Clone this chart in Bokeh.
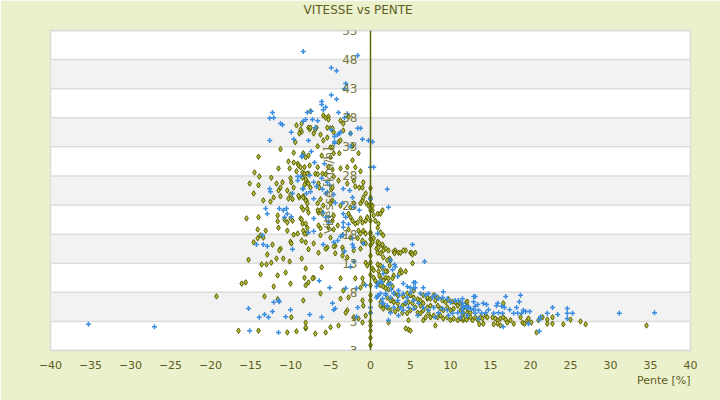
from bokeh.plotting import figure
from bokeh.models import (LinearAxis, FixedTicker, Range1d, BoxAnnotation, Span, Title)
from bokeh.embed import file_html
from bokeh.resources import INLINE

# ---------------- data ----------------
title_text = "VITESSE vs PENTE"
x_label = "Pente [%]"
y_label = "Vitesse [km/h]"
x_ticks = [-40, -35, -30, -25, -20, -15, -10, -5, 0, 5, 10, 15, 20, 25, 30, 35, 40]
y_ticks = [-2, 3, 8, 13, 18, 23, 28, 33, 38, 43, 48, 53]
y_tick_labels = ["3", "3", "8", "13", "18", "23", "28", "33", "38", "43", "48", "53"]

olive_pts = [
    (-9.25, 36.7), (-8.6, 37.0), (-8.9, 35.3), (-8.6, 35.6), (-9.4, 33.8), (-7.75, 36.3), (-7.6, 36.0),
    (-11.25, 32.6), (-9.6, 32.0), (-7.75, 31.5), (-14.0, 31.3), (-10.25, 30.5), (-9.6, 30.3), (-9.1, 30.1),
    (-9.0, 29.8), (-8.75, 29.5), (-11.5, 29.3), (-10.1, 29.3), (-14.5, 28.6), (-9.25, 28.8), (-8.5, 28.6),
    (-8.25, 28.4), (-7.75, 28.4), (-13.9, 27.9), (-12.4, 27.7), (-10.0, 27.6), (-9.9, 26.9), (-11.0, 26.9),
    (-11.75, 26.7), (-8.0, 27.2), (-8.1, 26.7), (-8.25, 26.5), (-15.1, 26.7), (-11.25, 26.0), (-11.5, 25.5),
    (-14.0, 26.4), (-10.4, 25.5), (-9.6, 26.0), (-8.9, 24.3), (-9.0, 24.6), (-10.0, 24.8), (-14.6, 25.0),
    (-12.1, 24.3), (-12.5, 23.6), (-11.25, 24.5), (-10.25, 24.1), (-9.75, 24.0), (-8.4, 24.5), (-8.0, 23.8),
    (-13.4, 23.8), (-8.6, 22.6), (-7.9, 22.4), (-15.5, 20.7), (-14.0, 20.9), (-11.6, 21.2), (-10.0, 20.7),
    (-8.75, 20.7),
    (-11.6, 20.2), (-10.75, 20.5), (-10.4, 20.0), (-9.75, 20.3), (-8.6, 20.5), (-8.5, 19.8), (-11.5, 19.1),
    (-14.1, 18.8), (-13.1, 18.6), (-10.4, 18.6), (-9.6, 17.9), (-9.1, 18.1), (-8.0, 18.1), (-13.75, 17.8),
    (-13.4, 17.4), (-14.1, 17.3), (-8.6, 16.9), (-14.6, 16.6), (-10.0, 16.7), (-9.9, 16.4), (-12.25, 16.2),
    (-11.25, 15.5), (-11.4, 15.2), (-7.75, 15.4), (-12.9, 14.5), (-15.25, 13.6), (-11.75, 13.8), (-10.9, 13.8),
    (-8.6, 13.8), (-10.1, 13.3), (-12.4, 13.1), (-13.0, 12.8), (-13.6, 12.8), (-10.6, 11.4), (-13.75, 11.1),
    (-11.6, 10.9), (-8.25, 10.5), (-16.1, 9.5), (-15.6, 9.7), (-12.1, 9.0), (-10.0, 9.5), (-8.1, 9.2),
    (-7.75, 9.7), (-13.25, 7.3), (-11.6, 6.8), (-9.9, 3.7), (-8.1, 2.8), (-8.1, 1.8), (-16.5, 1.4),
    (-14.0, 1.4), (-9.25, 1.3), (-10.4, 1.1), (-19.25, 7.3),
    (-7.5, 39.1), (-5.9, 38.4), (-5.6, 38.0), (-5.25, 38.2), (-5.25, 37.7), (-3.4, 37.0), (-8.75, 36.0),
    (-7.5, 36.3), (-6.75, 36.3), (-6.9, 36.0), (-5.4, 36.3), (-5.0, 36.2), (-7.1, 35.3), (-6.25, 35.1),
    (-5.4, 34.6), (-4.6, 35.5), (-5.9, 34.1), (-5.0, 32.9), (-4.75, 32.9), (-6.6, 33.1), (-4.0, 33.8),
    (-3.75, 34.1), (-2.25, 33.1), (-8.4, 31.9), (-8.5, 31.5), (-8.1, 31.2), (-6.1, 31.5), (-4.6, 31.9),
    (-3.4, 35.8), (-4.75, 36.2), (-3.75, 37.5), (-2.75, 38.2), (-2.5, 35.3), (-2.25, 33.2), (-1.5, 31.9),
    (-1.4, 26.0), (-0.6, 25.0),
    (-5.0, 31.2), (-3.9, 31.9), (-2.25, 30.7), (-8.25, 29.5), (-7.6, 29.8), (-6.6, 29.5), (-5.25, 29.6),
    (-4.75, 29.1), (-3.75, 29.3), (-2.9, 29.5), (-1.9, 29.5), (-1.25, 28.8), (-7.9, 28.4), (-6.9, 28.4),
    (-6.6, 28.3), (-8.5, 27.7), (-8.1, 27.4), (-6.0, 28.4), (-5.6, 28.3), (-4.6, 27.9), (-4.0, 27.2),
    (-2.1, 27.2), (-0.9, 26.9), (-7.75, 26.7), (-7.5, 26.0), (-6.5, 26.7), (-6.4, 26.0), (-4.9, 25.7),
    (-4.75, 26.0), (-2.9, 26.7), (-1.9, 26.2), (-1.0, 26.0), (-8.4, 24.3), (-8.1, 23.8), (-7.9, 23.3),
    (-6.6, 23.3), (-6.25, 24.0), (-5.9, 22.9), (-5.0, 23.3), (-4.75, 23.8), (-3.75, 22.9), (-2.5, 22.6),
    (-2.1, 23.3), (-1.25, 23.3), (-1.0, 23.8), (-0.9, 24.3), (-0.5, 23.3), (-0.25, 22.9), (-8.4, 22.2),
    (-7.75, 21.7), (-6.5, 21.7), (-4.6, 21.2), (-2.25, 20.3), (-1.25, 20.7), (-1.0, 20.0), (-0.4, 20.9),
    (-0.6, 20.3), (-8.1, 19.8), (-7.9, 19.1), (-6.5, 19.5), (-4.6, 18.8), (-4.1, 19.5), (-2.75, 18.8),
    (-1.5, 18.6), (-0.9, 18.6), (-0.6, 18.1), (-8.25, 18.1), (-6.25, 17.8), (-5.0, 17.4), (-2.5, 17.4),
    (-1.6, 17.3), (-1.0, 16.6), (-0.6, 16.4), (-8.1, 16.6), (-7.1, 16.4), (-5.4, 15.7), (-4.4, 16.0),
    (-3.5, 15.7),
    (-6.6, 22.1), (-6.25, 22.1), (-6.0, 21.5), (-4.75, 20.3), (-2.75, 21.5), (-2.5, 20.9), (-1.9, 19.8),
    (-1.6, 20.0), (-1.25, 18.1), (-1.0, 16.9), (-8.4, 18.6), (-6.25, 19.0), (-5.25, 19.1), (-3.5, 17.8),
    (-6.5, 14.8), (-5.6, 15.5), (-4.6, 15.9), (-4.4, 14.7), (-3.4, 15.2), (-3.5, 14.3), (-2.9, 14.0),
    (-2.1, 15.2), (-1.25, 15.5), (-0.6, 13.1), (-0.4, 12.6), (-8.1, 12.1), (-7.1, 10.5), (-7.25, 10.4),
    (-6.1, 12.3), (-3.75, 10.4), (-1.9, 10.4), (-1.0, 10.4), (-0.9, 9.5), (-1.25, 8.8), (-2.75, 7.1),
    (-3.4, 8.3), (-3.75, 6.9), (-6.25, 7.8), (-8.4, 6.6), (-1.0, 6.6), (-0.9, 5.7), (-2.9, 4.9),
    (-3.1, 4.5), (-2.1, 3.7), (-1.5, 3.5), (-0.6, 4.0), (-1.0, 2.8), (-5.0, 2.0), (-4.0, 2.3),
    (-5.6, 1.1), (-6.9, 0.9), (-8.1, 2.0),
    (0.25, 22.9), (0.25, 22.1), (0.4, 21.2), (0.9, 21.5), (1.25, 21.5), (1.5, 22.1), (0.6, 20.3),
    (1.0, 19.8), (0.9, 19.1), (1.25, 18.3), (1.6, 17.8), (0.4, 17.3), (0.9, 16.4), (1.5, 16.0),
    (1.9, 15.5), (0.9, 14.8), (1.25, 14.7), (1.6, 14.0), (2.1, 13.5), (3.1, 15.2), (3.5, 14.8),
    (3.75, 14.8), (4.4, 15.2), (5.0, 14.8), (5.6, 14.8), (1.0, 12.6), (1.5, 12.1), (2.1, 11.6),
    (2.4, 12.6), (3.75, 11.8), (4.4, 11.6), (2.9, 10.9), (2.75, 10.4), (1.25, 10.5), (1.6, 10.0),
    (2.1, 7.1), (2.75, 6.6), (1.25, 6.3), (1.6, 5.7), (5.4, 8.3), (7.1, 6.9), (8.1, 6.6), (4.75, 1.6),
    (8.1, 2.3),
    (0.25, 16.6), (0.9, 16.7), (1.1, 16.4), (1.5, 16.2), (0.75, 15.5), (1.0, 15.7), (1.6, 15.2),
    (2.25, 15.2), (2.9, 15.0), (3.0, 14.7), (4.1, 15.2), (5.1, 14.8), (5.25, 14.5), (2.4, 13.8),
    (2.5, 13.5), (0.9, 12.8), (1.25, 12.6), (5.25, 13.0), (0.25, 12.1), (0.4, 11.8), (1.0, 11.6),
    (1.9, 11.6), (3.9, 11.4), (3.6, 11.2), (1.1, 10.9), (0.4, 10.5), (0.6, 10.0), (1.9, 10.5),
    (2.25, 10.4), (0.9, 9.5), (1.25, 9.2), (1.6, 9.0), (2.25, 9.5), (2.75, 9.0), (1.9, 8.7),
    (2.25, 8.5), (3.0, 7.8), (3.4, 7.5), (4.1, 7.3), (4.6, 7.8), (5.0, 7.5), (5.4, 7.1), (5.9, 6.8),
    (6.25, 6.6), (6.6, 7.5), (7.1, 7.1), (7.5, 6.9), (7.9, 7.5), (8.4, 7.1), (9.0, 6.6), (9.4, 6.3),
    (9.75, 6.8), (10.25, 6.4), (10.6, 6.3), (10.9, 5.7), (11.25, 6.1), (11.6, 5.4), (12.1, 5.7),
    (1.25, 5.7), (1.6, 5.2), (2.1, 5.4), (2.5, 4.9), (3.1, 4.7), (3.5, 5.2), (4.0, 4.5), (4.6, 4.4),
    (5.0, 4.9), (5.6, 5.4), (5.9, 4.5), (6.25, 4.4), (6.6, 4.9), (7.25, 4.4), (7.5, 3.7), (7.9, 4.0),
    (8.4, 3.7), (8.75, 4.0), (9.1, 3.5), (9.6, 3.7), (10.0, 3.2), (10.4, 3.5), (10.9, 3.2),
    (11.25, 3.5), (11.6, 3.2), (12.1, 3.5), (2.25, 2.8), (4.75, 3.2), (6.6, 3.2), (6.9, 3.7),
    (4.4, 1.8), (5.0, 1.4), (4.0, 5.7), (4.4, 6.1), (2.5, 6.6), (2.9, 6.3), (3.4, 6.1), (4.75, 6.3),
    (5.25, 6.1), (6.25, 5.7), (6.6, 6.1), (7.1, 5.4), (7.5, 5.7), (8.4, 5.7), (8.75, 5.2), (9.1, 4.9),
    (9.6, 5.4), (10.0, 4.9), (10.4, 5.2), (11.25, 4.9), (11.6, 4.4), (12.1, 4.5),
    (12.0, 6.3), (12.1, 6.4), (11.5, 4.0), (11.6, 3.5), (12.0, 3.3), (12.5, 3.7), (12.75, 3.2),
    (13.1, 3.7), (13.4, 3.3), (13.75, 3.7), (14.0, 3.5), (14.4, 4.0), (14.6, 3.7), (15.25, 3.7),
    (15.6, 3.5), (15.9, 3.2), (16.25, 3.5), (16.6, 3.7), (16.9, 3.3), (17.1, 2.8), (17.5, 3.2),
    (17.9, 2.6), (13.6, 2.5), (14.1, 2.6), (15.4, 2.5), (15.9, 2.6), (16.25, 2.3), (18.75, 3.7),
    (19.0, 2.8), (19.25, 2.6), (19.6, 3.2), (19.75, 3.5), (20.1, 2.8), (20.75, 1.1), (21.0, 3.2),
    (21.5, 3.7), (22.1, 3.3), (22.75, 3.7), (22.1, 2.6), (22.75, 2.6), (24.1, 2.5), (25.0, 3.3),
    (26.25, 3.0), (26.9, 2.5), (34.5, 2.3), (16.6, 6.1), (12.1, 5.2), (12.5, 4.5),
    (0.0, 25.9), (0.0, 24.3), (0.0, 23.1), (0.0, 22.1), (0.0, 20.3), (0.0, 18.3), (0.0, 16.1),
    (0.0, 14.3), (0.0, 13.1), (0.0, 9.2), (0.0, 7.5), (0.0, 6.6), (0.0, 4.5), (0.0, 2.3), (0.0, 1.4),
    (0.0, 0.2), (0.0, -1.1), (0.0, 24.0), (0.0, 18.0), (0.0, 17.2), (0.0, 11.0), (0.0, 3.0),
]

blue_pts = [
    (-8.4, 49.4), (-1.6, 48.7), (-4.9, 46.6), (-4.25, 46.1), (-3.1, 43.9), (-3.25, 43.0), (-4.9, 41.9),
    (-4.25, 41.2), (-6.1, 40.8), (-6.1, 40.3), (-5.6, 39.8), (-5.9, 39.4), (-4.0, 38.9), (-7.9, 38.9),
    (-7.4, 39.1), (-2.9, 38.7), (-3.25, 38.0), (-8.4, 37.4), (-8.1, 37.7), (-7.25, 37.7), (-6.6, 37.5),
    (-6.9, 36.3), (-4.9, 36.0), (-1.6, 36.2), (-1.25, 36.2), (-3.75, 35.5), (-3.9, 35.3), (-4.1, 35.1),
    (-2.5, 35.3), (-4.5, 34.8), (-1.0, 34.3), (-0.25, 34.1), (0.25, 33.9), (-7.75, 34.1), (-4.5, 33.9),
    (-4.5, 33.6), (-2.5, 33.1), (-7.4, 32.2), (-8.6, 31.3), (0.0, 29.5), (0.4, 29.5), (2.1, 25.7),
    (2.25, 22.6), (0.0, 24.0), (5.25, 16.2), (0.9, 18.1),
    (-12.25, 38.9), (-12.6, 37.9), (-12.1, 38.0), (-11.25, 37.0), (-11.0, 36.8), (-9.9, 35.5),
    (-9.6, 34.3), (-12.6, 34.1), (-8.5, 31.5), (-9.1, 27.9), (-8.75, 27.9), (-9.1, 27.2), (-8.5, 25.8),
    (-9.75, 25.0), (-12.6, 25.8), (-12.5, 25.3), (-7.5, 25.3), (-13.1, 22.4), (-12.9, 21.5),
    (-11.4, 22.4), (-10.9, 22.1), (-10.5, 22.4), (-10.4, 21.5), (-9.9, 21.0), (-10.75, 20.9),
    (-13.5, 17.8), (-14.25, 16.2), (-13.4, 16.2), (-12.9, 15.9), (-9.75, 15.4), (-12.1, 6.3),
    (-11.5, 6.6), (-11.4, 6.4), (-15.25, 5.2), (-12.25, 4.7), (-13.25, 4.2), (-13.9, 3.7),
    (-12.75, 3.7), (-10.0, 5.0), (-10.6, 3.8), (-7.6, 4.2), (-15.1, 1.4), (-11.5, 1.1), (-27.0, 2.1),
    (-35.25, 2.5),
    (-7.0, 30.3), (-5.75, 30.1), (-7.6, 28.1), (-8.4, 25.8), (-6.1, 27.6), (-7.1, 26.9), (-5.4, 26.9),
    (-5.1, 26.4), (-6.75, 26.2), (-6.0, 25.7), (-5.4, 25.2), (-5.6, 25.0), (-8.0, 25.0), (-3.4, 25.8),
    (-2.6, 25.5), (-7.1, 24.1), (-4.6, 24.8), (-4.4, 23.4), (-3.5, 23.3), (-2.25, 24.3), (-1.4, 22.1),
    (-5.9, 21.7), (-2.1, 22.6), (-3.4, 21.5), (-3.1, 20.9), (-7.1, 20.7), (-5.6, 20.9), (-5.25, 20.9),
    (-5.25, 20.0), (-2.75, 19.7), (-3.4, 20.0), (-7.1, 18.5), (-7.75, 18.3), (-3.4, 17.9),
    (-3.75, 17.6), (-4.1, 16.9), (-4.6, 16.6), (-2.25, 16.2), (-2.1, 15.7), (-5.9, 16.2),
    (-3.4, 19.2), (-2.25, 17.3), (-0.9, 16.4), (-3.25, 15.0), (2.5, 13.5), (6.75, 13.3), (-2.1, 13.3),
    (-2.5, 12.4), (3.0, 12.8), (3.4, 10.7), (1.6, 11.2), (1.25, 9.9), (-6.4, 10.0), (-5.1, 8.8),
    (-3.1, 8.7), (-1.75, 8.7), (-0.6, 9.2), (0.75, 9.0), (2.25, 9.3), (1.25, 7.8), (0.75, 7.1),
    (0.0, 5.4), (0.0, 4.5), (-4.75, 6.1), (-4.4, 5.2), (-4.6, 5.0), (-1.6, 5.4), (-6.1, 3.7),
    (-1.75, 3.8), (1.4, 6.1), (2.1, 5.6), (2.25, 3.2),
    (3.1, 12.4), (2.75, 11.9), (1.6, 12.4), (1.4, 9.7), (0.9, 9.5), (2.5, 9.5), (4.1, 9.5), (5.4, 9.7),
    (5.6, 9.7), (4.6, 9.0), (5.0, 8.8), (5.4, 8.8), (5.6, 8.8), (6.6, 8.8), (2.6, 8.5), (2.9, 7.8),
    (3.5, 8.3), (1.9, 7.8), (3.6, 7.5), (0.9, 7.3), (9.1, 8.1), (11.5, 6.9),
    (1.9, 7.5), (2.5, 7.1), (4.1, 7.8), (4.6, 7.1), (5.0, 8.0), (6.25, 7.8), (6.9, 7.5), (7.25, 7.8),
    (7.75, 7.1), (8.1, 7.5), (8.5, 6.9), (9.0, 7.1), (9.6, 6.9), (10.0, 6.3), (10.6, 6.6), (11.0, 6.6),
    (11.5, 6.1), (11.9, 5.7), (12.25, 5.4), (1.6, 6.1), (2.1, 5.7), (2.9, 5.4), (3.75, 5.4), (4.1, 4.9),
    (4.75, 5.4), (5.4, 5.2), (6.0, 6.1), (6.6, 5.4), (7.25, 4.9), (7.9, 5.4), (8.5, 4.5), (9.0, 5.2),
    (9.6, 4.9), (10.25, 4.4), (10.9, 4.5), (11.5, 4.5), (12.1, 4.0), (5.4, 6.6), (4.4, 6.3),
    (3.4, 6.6), (2.5, 4.5), (3.5, 4.0), (5.9, 4.0), (8.1, 3.7), (9.75, 4.0), (11.25, 3.7), (0.9, 7.5),
    (1.5, 6.9),
    (12.9, 7.3), (13.1, 7.3), (16.9, 7.3), (18.75, 7.5), (18.6, 6.4), (12.9, 6.4), (13.4, 5.9),
    (13.1, 5.6), (14.1, 6.1), (14.5, 5.9), (15.9, 6.1), (15.75, 5.7), (16.4, 5.6), (16.75, 5.4),
    (18.25, 5.4), (17.4, 5.0), (14.75, 5.0), (14.4, 4.5), (13.9, 4.4), (15.4, 4.4), (16.0, 4.5),
    (16.5, 4.4), (17.9, 4.4), (18.4, 4.4), (19.1, 4.9), (19.4, 4.7), (18.9, 4.4), (19.9, 4.7),
    (22.75, 5.4), (22.1, 4.4), (23.4, 4.2), (24.6, 5.2), (24.6, 4.4), (25.25, 4.4), (24.6, 3.5),
    (21.25, 3.8), (21.1, 3.3), (19.75, 2.6), (16.6, 2.1), (21.1, 1.3), (31.1, 4.4), (35.5, 4.5),
    (11.5, 5.7), (11.6, 5.4), (12.1, 5.4), (11.5, 5.0), (12.5, 5.2), (12.9, 5.0), (13.5, 4.9),
    (13.1, 4.4), (13.5, 3.5),
]

olive_x = [p[0] for p in olive_pts]
olive_y = [p[1] for p in olive_pts]
blue_x = [p[0] for p in blue_pts]
blue_y = [p[1] for p in blue_pts]

# ---------------- styling ----------------
BG = "#ebf0cd"
TXT = "#5e5e22"
YTXT = "#77773f"
AXIS = "#5b6500"

p = figure(width=720, height=400, output_backend="svg", toolbar_location=None,
           x_range=Range1d(x_ticks[0], x_ticks[-1]), y_range=Range1d(y_ticks[0], y_ticks[-1]),
           y_axis_location=None, min_border_left=50, min_border_right=30,
           min_border_top=30, min_border_bottom=50)
p.background_fill_color = "white"
p.border_fill_color = BG
p.outline_line_color = "#d9d9d9"
p.outline_line_width = 1.5

# spacer (closest to the frame) then the chart title above it
p.add_layout(Title(text=" ", text_font_size="2px", standoff=10, text_color=BG), "above")
p.add_layout(Title(text=title_text, align="left", offset=253, standoff=0,
                   text_font="DejaVu Sans", text_font_size="12px", text_font_style="normal",
                   text_color=TXT), "above")

# alternating bands
for lo, hi in zip(y_ticks[1:-1:2], y_ticks[2::2]):
    p.add_layout(BoxAnnotation(bottom=lo, top=hi, fill_color="#f2f2f2", fill_alpha=1.0,
                               line_color=None, level="underlay"))

p.xgrid.grid_line_color = None
p.ygrid.grid_line_color = None

xa = p.xaxis[0]
xa.ticker = FixedTicker(ticks=x_ticks)
xa.axis_line_color = None
xa.major_tick_line_color = None
xa.minor_tick_line_color = None
xa.major_tick_out = 0
xa.major_label_standoff = 10
xa.major_label_text_font = "DejaVu Sans"
xa.major_label_text_font_size = "11px"
xa.major_label_text_color = TXT

# x-axis title, right-aligned under the frame
p.add_layout(Title(text=x_label, align="right", standoff=0, text_font="DejaVu Sans",
                   text_font_size="11px", text_font_style="normal", text_color=TXT), "below")

ya = LinearAxis(fixed_location=0, ticker=FixedTicker(ticks=y_ticks),
                major_label_overrides={t: s for t, s in zip(y_ticks, y_tick_labels)},
                axis_label=y_label)
ya.axis_line_color = AXIS
ya.axis_line_width = 1.5
ya.major_tick_line_color = None
ya.minor_tick_line_color = None
ya.major_label_standoff = 7
ya.major_label_text_font = "DejaVu Sans"
ya.major_label_text_font_size = "12px"
ya.major_label_text_color = YTXT
ya.axis_label_text_font = "DejaVu Sans"
ya.axis_label_text_font_size = "12px"
ya.axis_label_text_font_style = "normal"
ya.axis_label_text_color = YTXT
ya.axis_label_standoff = 3
p.add_layout(ya, "left")

# horizontal grid lines
for t in y_ticks:
    p.add_layout(Span(location=t, dimension="width", line_color="#dcdcdc", line_width=1.5,
                      level="underlay"))

p.scatter(olive_x, olive_y, marker="diamond", size=5.5, fill_color="#b8b83a",
          line_color="#556000", line_width=1)
p.scatter(blue_x, blue_y, marker="cross", size=5, line_color="#3a8de0", line_width=1.5)

html = file_html(p, INLINE)
html = html.replace("<body>", '<body style="margin:0;background-color:%s">' % BG, 1)
open("out.html", "w").write(html)
